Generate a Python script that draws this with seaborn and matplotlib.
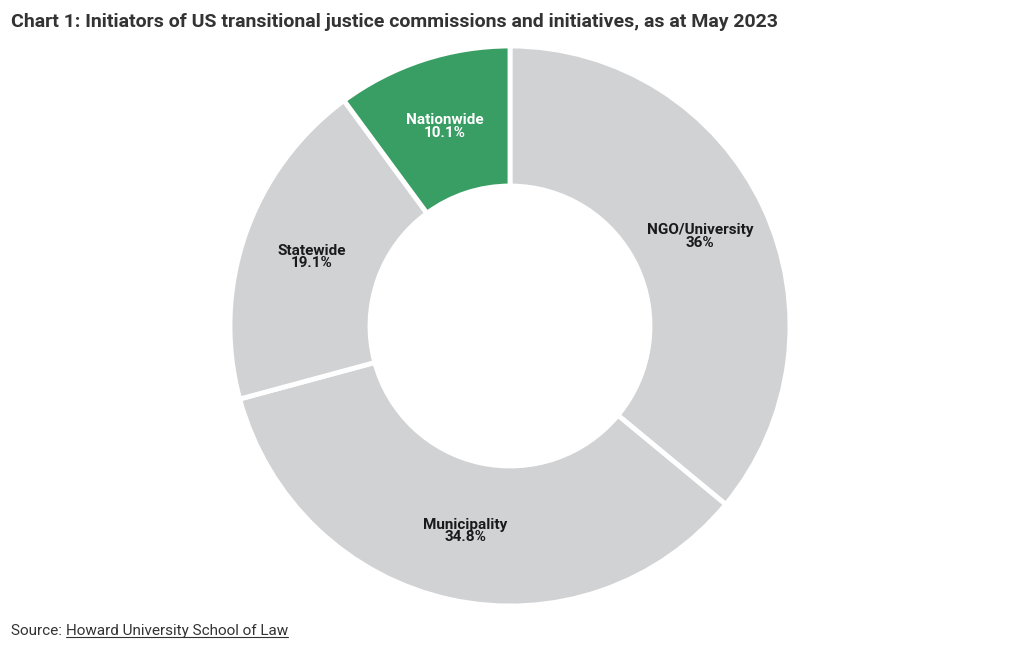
import matplotlib
matplotlib.use("Agg")
import matplotlib.pyplot as plt
import seaborn as sns
import numpy as np
from matplotlib.lines import Line2D

categories = ["NGO/University", "Municipality", "Statewide", "Nationwide"]
values = [36.0, 34.8, 19.1, 10.1]
labels = ["36%", "34.8%", "19.1%", "10.1%"]
colors = ["#D1D2D4", "#D1D2D4", "#D1D2D4", "#389E63"]
text_colors = ["#1a1a1a", "#1a1a1a", "#1a1a1a", "#ffffff"]

sns.set_theme(style="white")
plt.rcParams["font.family"] = ["Roboto", "DejaVu Sans"]

W, H = 1020, 650
fig = plt.figure(figsize=(W / 100, H / 100), dpi=100)
cx, cy, R = 510, 326, 280
ax = fig.add_axes([(cx - R) / W, (H - cy - R) / H, 2 * R / W, 2 * R / H])

wedges, _ = ax.pie(values, colors=colors, startangle=90, counterclock=False,
                   radius=1.0,
                   wedgeprops=dict(width=0.5, edgecolor="white", linewidth=3.5))
ax.set_xlim(-1, 1)
ax.set_ylim(-1, 1)
ax.set_aspect("equal")
ax.axis("off")

for w, cat, lab, tc in zip(wedges, categories, labels, text_colors):
    ang = np.deg2rad((w.theta1 + w.theta2) / 2)
    r = 0.75
    ax.text(r * np.cos(ang), r * np.sin(ang), f"{cat}\n{lab}", ha="center", va="center",
            fontsize=11, fontweight="bold", color=tc, linespacing=0.85)

fig.text(11 / W, 1 - 22 / H, "Chart 1: Initiators of US transitional justice commissions and initiatives, as at May 2023",
         fontsize=14, fontweight="bold", color="#333333", va="center", ha="left")

t1 = fig.text(11 / W, 1 - 631 / H, "Source: ", fontsize=11, color="#333333", va="center", ha="left")
fig.canvas.draw()
r = fig.canvas.get_renderer()
bb = t1.get_window_extent(r)
t2 = fig.text(bb.x1 / W, 1 - 631 / H, "Howard University School of Law", fontsize=11,
              color="#333333", va="center", ha="left")
fig.canvas.draw()
bb2 = t2.get_window_extent(r)
yline = (bb2.y0 + 1) / H
fig.add_artist(Line2D([bb2.x0 / W, bb2.x1 / W], [yline, yline], color="#333333", linewidth=0.8,
                      transform=fig.transFigure))

fig.savefig("out.png", dpi=100, facecolor="white")
